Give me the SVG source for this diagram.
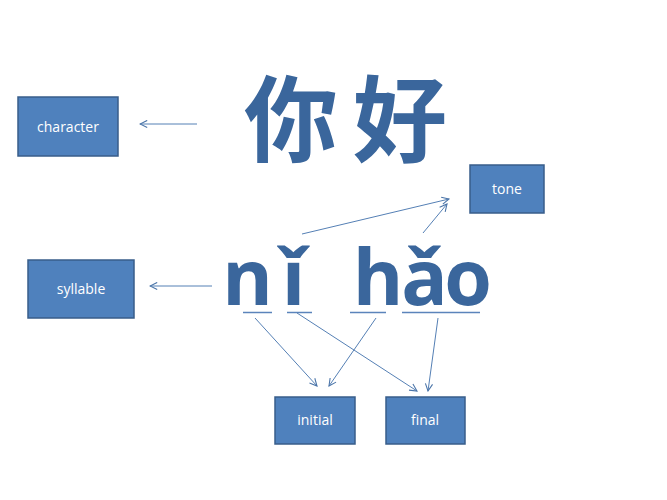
<svg xmlns="http://www.w3.org/2000/svg" width="667" height="500" viewBox="0 0 667 500">
<defs>
<marker id="ah" viewBox="0 0 10 10" refX="9" refY="5" markerWidth="9" markerHeight="9" markerUnits="userSpaceOnUse" orient="auto">
<path d="M1,1 L9,5 L1,9" fill="none" stroke="#4a74a8" stroke-width="1.2"/>
</marker>
<style>
.box{fill:#4f81bd;stroke:#385d8a;stroke-width:1.5}
.lbl{font-family:"Open Sans","Liberation Sans",sans-serif;font-size:14px;fill:#ffffff;text-anchor:middle}
.big{font-family:"Open Sans","Liberation Sans",sans-serif;font-weight:700;font-size:77px;fill:#3a669c;text-anchor:middle}
.cjk{font-family:"Noto Sans CJK SC","Noto Sans CJK JP",sans-serif;font-weight:700;font-size:94px;fill:#3a669c;text-anchor:middle}
.conn line{stroke:#5580b5;stroke-width:1}
.conn line.a{marker-end:url(#ah)}
.ul{stroke:#5b84bb;stroke-width:1.5}
</style>
</defs>
<rect width="667" height="500" fill="#ffffff"/>
<g id="character"><rect class="box" x="18" y="97" width="100" height="59"/><text class="lbl" x="68" y="132">character</text></g>
<g id="tone"><rect class="box" x="470" y="165" width="74" height="48"/><text class="lbl" x="507" y="194">tone</text></g>
<g id="syllable"><rect class="box" x="28" y="260" width="106" height="58"/><text class="lbl" x="81" y="294">syllable</text></g>
<g id="initial"><rect class="box" x="275" y="397" width="80" height="47"/><text class="lbl" x="315" y="425">initial</text></g>
<g id="final"><rect class="box" x="386" y="397" width="79" height="47"/><text class="lbl" x="425" y="425">final</text></g>
<g id="hanzi"><text class="cjk" x="291" y="155">你</text><text class="cjk" x="400" y="155">好</text></g>
<g id="pinyin">
<text class="big" x="247.5" y="305">n</text>
<text class="big" x="293.5" y="305">ǐ</text>
<text class="big" x="378" y="305">h</text>
<text class="big" x="424.5" y="305">ǎ</text>
<text class="big" x="468" y="305">o</text>
<line class="ul" x1="243" y1="312.5" x2="272" y2="312.5"/>
<line class="ul" x1="287" y1="312.5" x2="312" y2="312.5"/>
<line class="ul" x1="350" y1="312.5" x2="386" y2="312.5"/>
<line class="ul" x1="402" y1="312.5" x2="480" y2="312.5"/>
</g>
<g id="connectors" class="conn">
<line class="a" x1="197" y1="124" x2="140" y2="124"/>
<line class="a" x1="212" y1="286" x2="150" y2="286"/>
<line class="a" x1="302" y1="234" x2="449" y2="199"/>
<line class="a" x1="423" y1="233" x2="447" y2="204"/>
<line class="a" x1="255" y1="318" x2="317" y2="386"/>
<line class="a" x1="297" y1="313" x2="417" y2="391"/>
<line class="a" x1="376" y1="318" x2="329" y2="386"/>
<line class="a" x1="438" y1="318" x2="428" y2="391"/>
</g>
</svg>
